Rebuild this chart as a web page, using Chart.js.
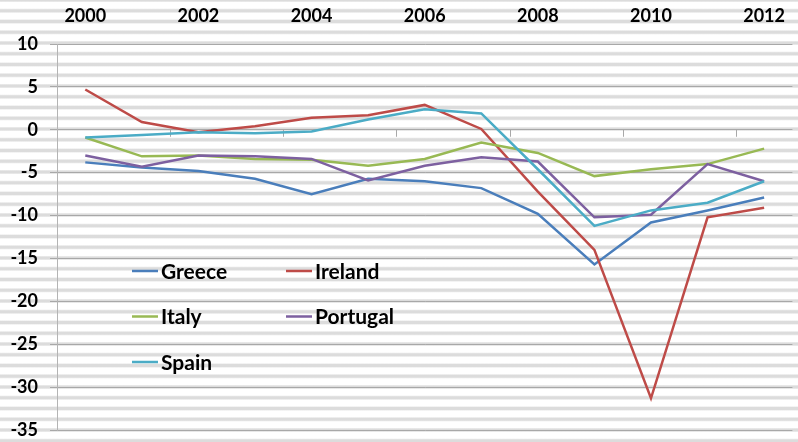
<!DOCTYPE html>
<html>
<head>
<meta charset="utf-8">
<script src="https://cdn.jsdelivr.net/npm/chart.js@4/dist/chart.umd.min.js"></script>
<style>
  html, body { margin: 0; padding: 0; overflow: hidden; }
  body {
    width: 798px; height: 442px;
    /* lined page behind the chart */
    background: repeating-linear-gradient(to bottom, #dcdcdc 0px, #dcdcdc 1px, #fff 2.5px, #fff 8.25px, #dcdcdc 9.75px, #dcdcdc 10.75px);
  }
  #wrap { position: relative; width: 802px; height: 442px; }
</style>
</head>
<body>
<div id="wrap"><canvas id="deficit-chart"></canvas></div>
<script>
/* Data (% of GDP) */
let years = ['2000', '2001', '2002', '2003', '2004', '2005', '2006', '2007', '2008', '2009', '2010', '2011', '2012']
let greece   = [-3.8, -4.4, -4.8, -5.7, -7.5, -5.7, -6.0, -6.8, -9.8, -15.7, -10.8, -9.4, -7.9]
let ireland  = [4.7, 0.9, -0.3, 0.4, 1.4, 1.7, 2.9, 0.1, -7.2, -14.0, -31.3, -10.2, -9.1]
let italy    = [-0.9, -3.1, -3.0, -3.4, -3.5, -4.2, -3.4, -1.5, -2.7, -5.4, -4.6, -4.0, -2.2]
let portugal = [-3.0, -4.3, -3.0, -3.1, -3.4, -5.9, -4.2, -3.2, -3.7, -10.2, -9.9, -4.0, -6.0]
let spain    = [-0.9, -0.6, -0.3, -0.4, -0.2, 1.2, 2.4, 1.9, -4.6, -11.2, -9.4, -8.5, -6.0]
let yMin = -35, yMax = 10, yStep = 5

let seriesNames = ['Greece', 'Ireland', 'Italy', 'Portugal', 'Spain']
let seriesData = [greece, ireland, italy, portugal, spain]
let seriesColors = ['#4a7ebb', '#be4b48', '#98b954', '#7d60a0', '#4bacc6']

let labelFont = 'Lato'

// small tick marks on the zero line, every 2 categories (between years)
let zeroTicks = {
  id: 'zeroTicks',
  beforeDatasetsDraw(chart) {
    let xs = chart.scales.x, ys = chart.scales.y
    let ctx = chart.ctx
    let step = xs.getPixelForValue(1) - xs.getPixelForValue(0)
    let y0 = ys.getPixelForValue(0)
    ctx.save()
    ctx.strokeStyle = '#a8a8a8'
    ctx.lineWidth = 1
    for (let k = 2; k < years.length; k += 2) {
      let x = Math.round(xs.getPixelForValue(k) - step / 2) + 0.5
      ctx.beginPath()
      ctx.moveTo(x, y0)
      ctx.lineTo(x, y0 + 7)
      ctx.stroke()
    }
    ctx.restore()
  }
}

// legend drawn inside the plot, two columns
let innerLegend = {
  id: 'innerLegend',
  afterDraw(chart) {
    let ctx = chart.ctx
    let area = chart.chartArea
    let cols = [area.left + 75, area.left + 229]
    let rows = [271, 316.5, 362]
    ctx.save()
    ctx.font = 'bold 21px ' + labelFont
    ctx.textBaseline = 'middle'
    ctx.fillStyle = '#000'
    seriesNames.forEach(function(name, i) {
      let x = cols[i % 2]
      let y = rows[Math.floor(i / 2)]
      ctx.strokeStyle = seriesColors[i]
      ctx.lineWidth = 2.5
      ctx.beginPath()
      ctx.moveTo(x, y)
      ctx.lineTo(x + 26, y)
      ctx.stroke()
      ctx.fillText(name, x + 29, y + 1)
    })
    ctx.restore()
  }
}

let ctx = document.querySelector('#deficit-chart').getContext('2d')

let deficitChart = new Chart(ctx, {
  type: 'line',
  data: {
    labels: years,
    datasets: seriesNames.map(function(name, i) {
      return {
        label: name,
        data: seriesData[i],
        borderColor: seriesColors[i],
        backgroundColor: seriesColors[i],
        borderWidth: 2.5,
        pointRadius: 0,
        tension: 0,
        fill: false,
        order: seriesNames.length - i   // later series drawn on top, like the original
      }
    })
  },
  options: {
    responsive: true,
    maintainAspectRatio: false,
    animation: false,
    layout: { padding: { left: 0, right: 0, top: 0, bottom: 12 } },
    plugins: {
      legend: { display: false },
      tooltip: { enabled: false }
    },
    scales: {
      x: {
        position: 'top',
        offset: true,
        grid: { display: false, drawTicks: false },
        border: { display: false },
        ticks: {
          autoSkip: false,
          maxRotation: 0,
          padding: 17,
          color: '#000',
          font: { family: labelFont, weight: 'bold', size: 18 },
          callback: function(value, index) { return index % 2 === 0 ? years[index] : '' }
        },
        afterFit: function(scale) { scale.height = 44 }
      },
      y: {
        min: yMin,
        max: yMax,
        ticks: {
          stepSize: yStep,
          padding: 12,
          color: '#000',
          font: { family: labelFont, weight: 'bold', size: 18 }
        },
        grid: { color: '#a8a8a8', lineWidth: 1, tickLength: 7 },
        border: { color: '#b4b4b4', width: 1 },
        afterFit: function(scale) {
          scale.width = 57
          // tick padding would otherwise push the bottom of the plot up
          scale.paddingTop = 0
          scale.paddingBottom = 0
        }
      }
    }
  },
  plugins: [zeroTicks, innerLegend]
})
</script>
</body>
</html>
